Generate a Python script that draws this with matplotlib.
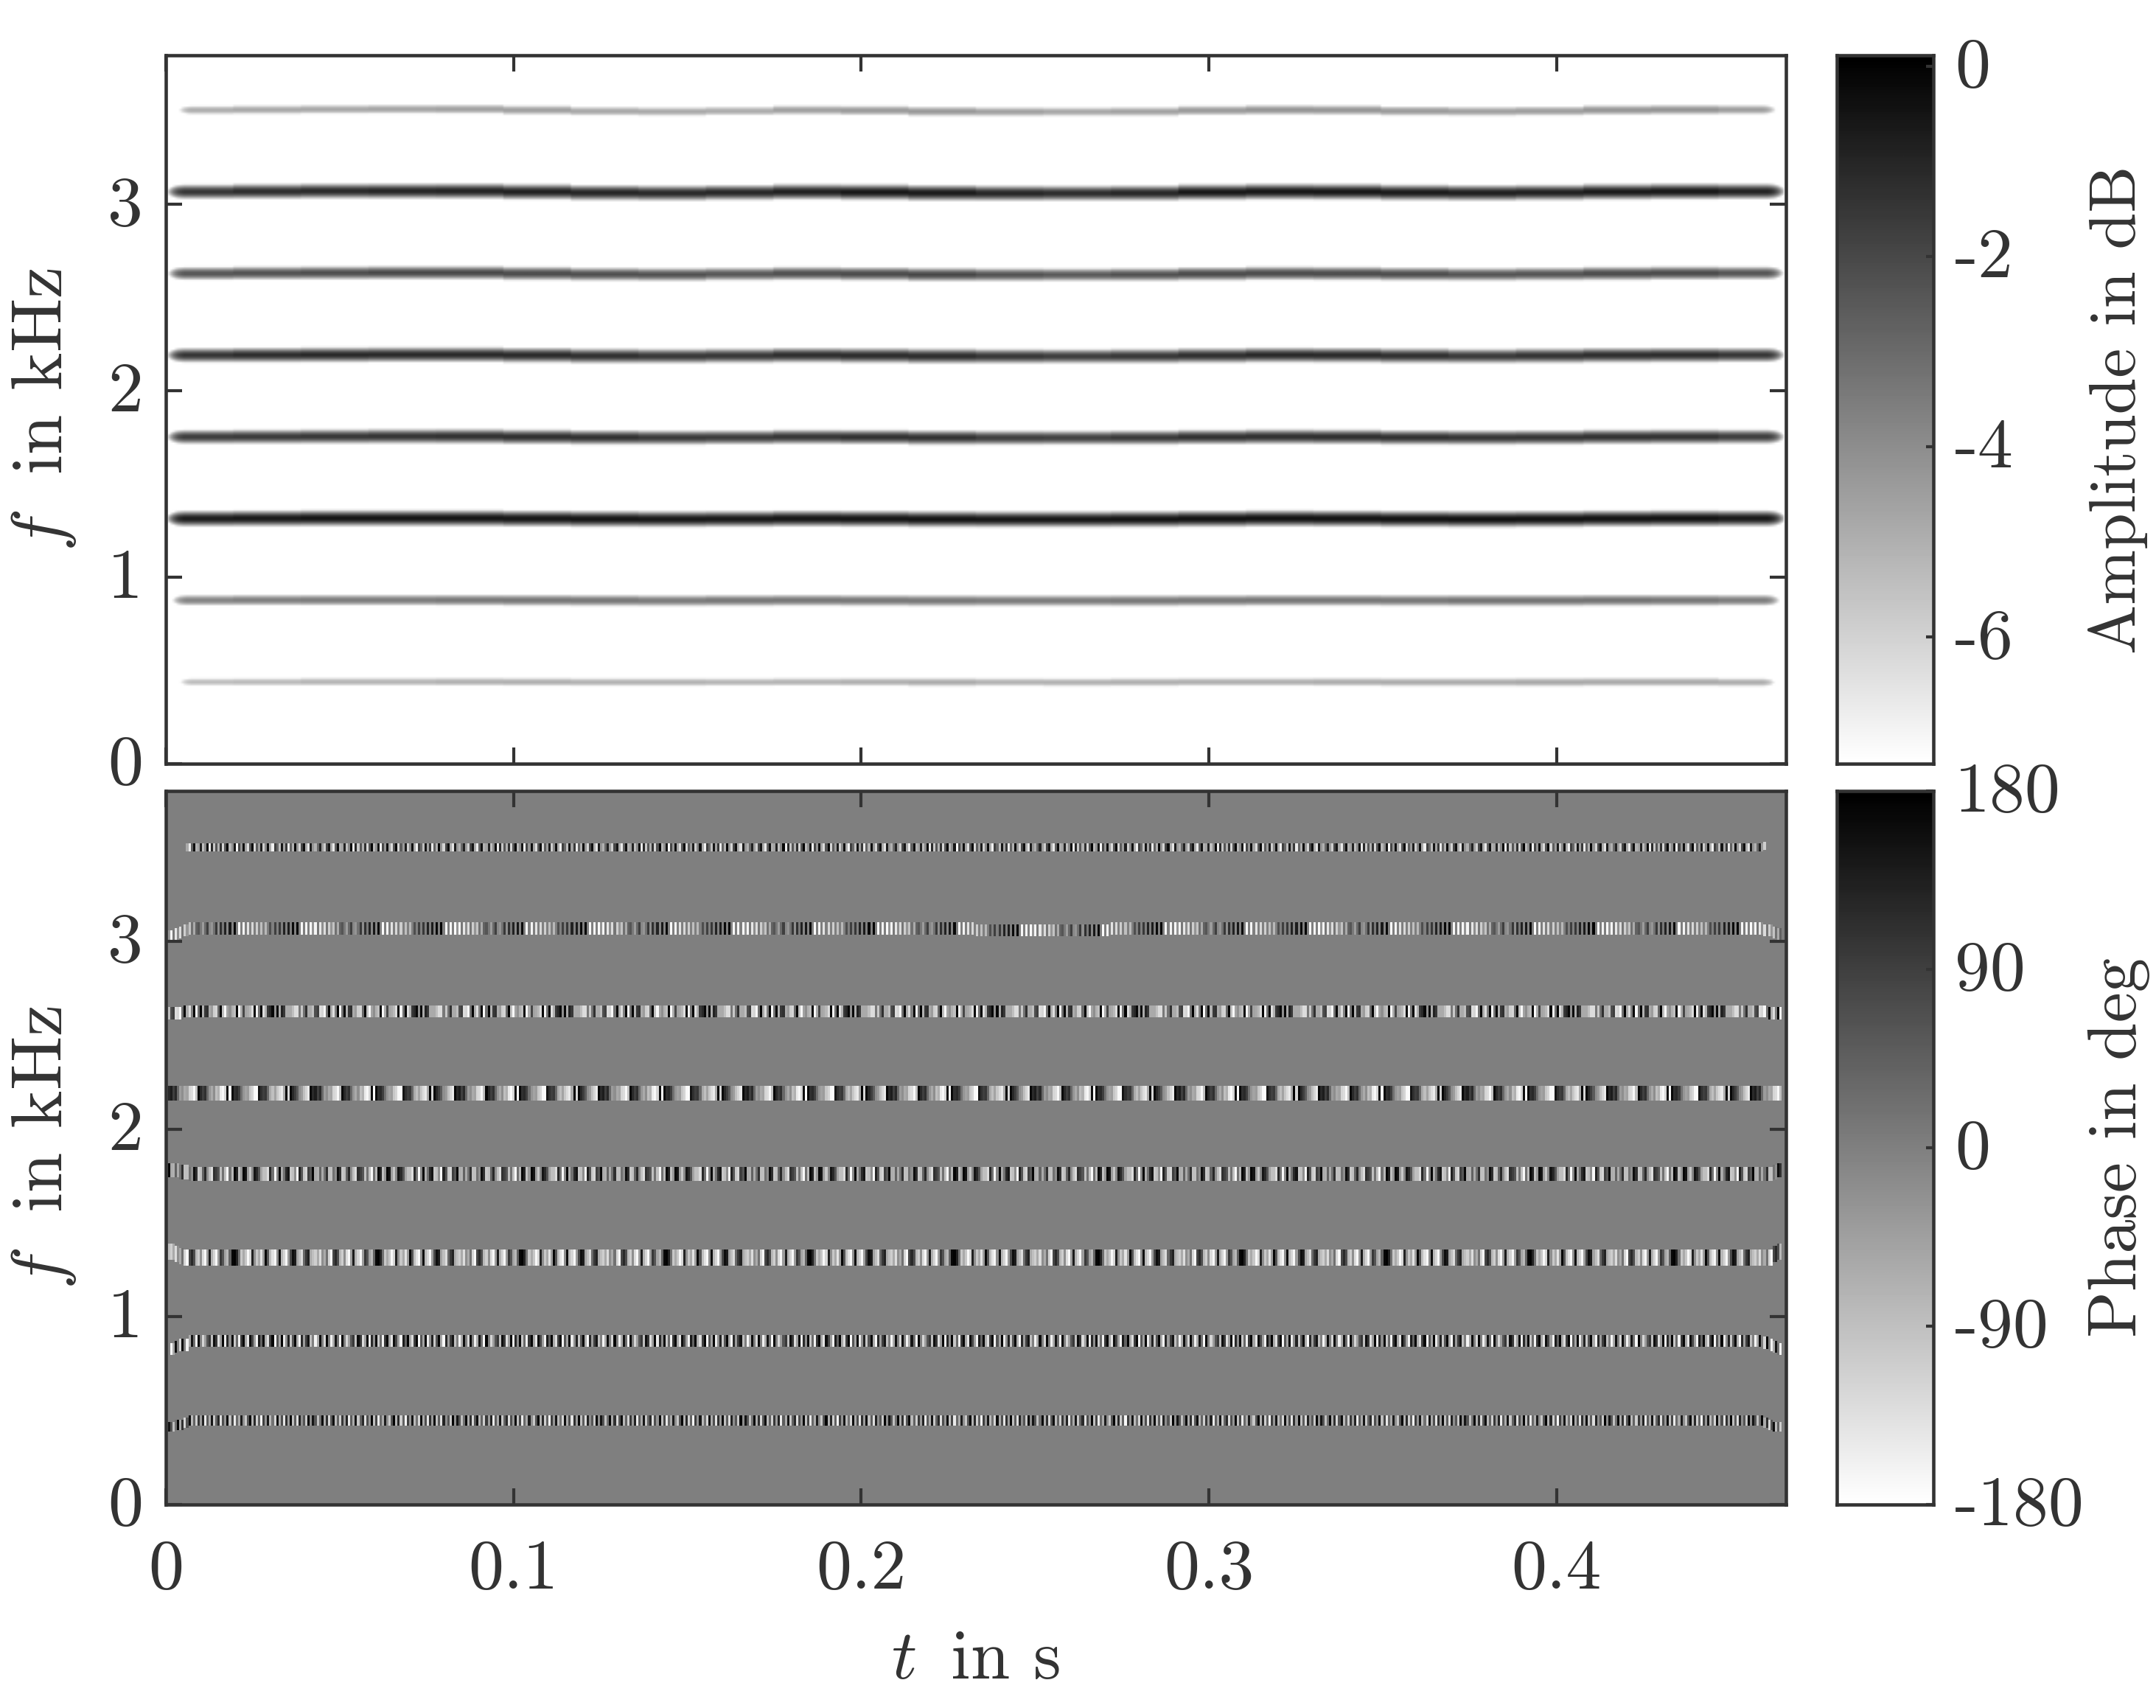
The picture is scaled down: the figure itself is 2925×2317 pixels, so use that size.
import numpy as np
import matplotlib
matplotlib.use('Agg')
import matplotlib.pyplot as plt
from matplotlib.transforms import ScaledTranslation

plt.rcParams['font.family'] = ['cmr10', 'DejaVu Sans']
plt.rcParams['mathtext.fontset'] = 'cm'
plt.rcParams['axes.formatter.use_mathtext'] = True
plt.rcParams['axes.unicode_minus'] = False
plt.rcParams['text.color'] = '#333333'
plt.rcParams['axes.labelcolor'] = '#333333'

# ---- data -----------------------------------------------------------------
T_MAX = 0.466
F_MAX = 3.8
F_BIN = 0.01077
N_FRAMES = 720

# centre frequency of each partial in kHz, 24 segments along time
centre_1 = [.438,.438,.439,.439,.439,.438,.437,.437,.437,.438,.438,.437,.437,.436,.437,.438,.438,.438,.437,.437,.437,.438,.438,.436]
centre_2 = [.876,.877,.877,.877,.877,.876,.875,.874,.875,.876,.875,.874,.874,.874,.874,.875,.876,.876,.875,.875,.875,.876,.876,.876]
centre_3 = [1.314,1.315,1.316,1.316,1.316,1.314,1.312,1.311,1.312,1.314,1.313,1.311,1.310,1.310,1.311,1.313,1.315,1.314,1.312,1.311,1.312,1.314,1.315,1.315]
centre_4 = [1.752,1.753,1.754,1.755,1.755,1.752,1.749,1.748,1.749,1.752,1.751,1.748,1.747,1.747,1.748,1.751,1.753,1.752,1.749,1.748,1.749,1.752,1.753,1.753]
centre_5 = [2.190,2.191,2.192,2.193,2.193,2.190,2.186,2.185,2.187,2.190,2.188,2.185,2.184,2.184,2.185,2.188,2.191,2.190,2.187,2.185,2.187,2.190,2.191,2.191]
centre_6 = [2.628,2.630,2.631,2.632,2.632,2.628,2.624,2.622,2.625,2.628,2.626,2.622,2.621,2.621,2.622,2.626,2.629,2.628,2.625,2.623,2.625,2.628,2.630,2.630]
centre_7 = [3.066,3.068,3.070,3.070,3.070,3.066,3.061,3.059,3.062,3.066,3.064,3.060,3.058,3.058,3.059,3.064,3.067,3.066,3.062,3.060,3.062,3.066,3.068,3.068]
centre_8 = [3.504,3.506,3.508,3.509,3.509,3.504,3.498,3.496,3.499,3.504,3.502,3.497,3.495,3.495,3.496,3.502,3.505,3.504,3.499,3.497,3.499,3.504,3.506,3.506]
centres = [centre_1, centre_2, centre_3, centre_4, centre_5, centre_6, centre_7, centre_8]

# peak level of each partial in dB, 24 segments along time
peak_1 = [-5.3,-5.2,-5.0,-5.0,-4.9,-4.9,-5.0,-5.0,-5.1,-5.0,-4.9,-4.8,-5.0,-5.0,-4.9,-4.9,-4.9,-4.8,-4.8,-4.8,-4.7,-4.7,-4.7,-4.9]
peak_2 = [-3.6,-3.5,-3.4,-3.4,-3.3,-3.2,-3.2,-3.3,-3.2,-3.2,-3.2,-3.2,-3.3,-3.3,-3.2,-3.2,-3.2,-3.2,-3.2,-3.1,-3.1,-3.1,-3.2,-3.4]
peak_3 = [-0.5,-0.4,-0.3,-0.3,-0.3,-0.3,-0.3,-0.4,-0.4,-0.3,-0.3,-0.3,-0.4,-0.4,-0.3,-0.2,-0.2,-0.2,-0.2,-0.2,-0.2,-0.2,-0.2,-0.4]
peak_4 = [-1.5,-1.4,-1.3,-1.2,-1.1,-1.1,-1.2,-1.4,-1.5,-1.3,-1.2,-1.2,-1.5,-1.6,-1.4,-1.2,-1.1,-1.1,-1.2,-1.3,-1.3,-1.2,-1.2,-1.5]
peak_5 = [-1.3,-1.1,-1.0,-1.0,-1.0,-1.0,-1.1,-1.3,-1.3,-1.1,-1.0,-1.0,-1.3,-1.5,-1.3,-1.1,-1.0,-1.0,-1.1,-1.4,-1.2,-1.1,-1.1,-1.4]
peak_6 = [-2.2,-2.1,-2.0,-1.9,-1.9,-1.9,-2.1,-2.2,-2.3,-2.0,-1.9,-1.9,-2.2,-2.4,-2.2,-1.9,-1.9,-1.9,-2.0,-2.3,-2.2,-1.9,-1.9,-2.2]
peak_7 = [-1.3,-1.0,-0.9,-0.8,-0.7,-0.7,-0.8,-0.9,-0.9,-0.7,-0.5,-0.5,-0.8,-1.0,-0.8,-0.5,-0.4,-0.4,-0.5,-0.6,-0.7,-0.5,-0.4,-0.7]
peak_8 = [-4.8,-4.7,-4.6,-4.5,-4.4,-4.4,-4.6,-4.7,-4.7,-4.4,-4.2,-4.2,-4.5,-4.7,-4.5,-4.2,-4.1,-4.1,-4.2,-4.4,-4.3,-4.1,-4.1,-4.4]
peaks = [peak_1, peak_2, peak_3, peak_4, peak_5, peak_6, peak_7, peak_8]

# level falloff around the ridge (dB) against distance from the ridge in rows
ridge_offset = [-5.5, -3.5, -2, -1, 0, 1, 2, 3.5, 5.5]
ridge_profile = [-9.0, -5.0, -2.0, -0.6, 0.0, -0.6, -2.0, -5.0, -9.0]
# fade at the two ends of each partial (dB)
edge_fade = [-4.0, -2.8, -1.8, -1.1, -0.6, -0.3, -0.1]
# first and last frame of each partial in the amplitude image
amp_first = [4, 2, 1, 1, 1, 1, 1, 4]
amp_last = [717, 718, 719, 719, 719, 719, 719, 717]
# first and last frame of each partial in the phase image
pha_first = [1, 1, 1, 1, 1, 1, 1, 9]
pha_last = [718, 718, 718, 718, 718, 718, 718, 711]

# band width of the phase stripes, rows
phase_rows = [5, 6, 8, 7, 7, 6, 6, 4]
# smallest frequency deviation that moves a phase band by a row (kHz)
phase_step = 0.008

# frequency shift of the phase stripes over the first and last 5 stripe pairs (kHz)
left_bend_1 = [-.025,-.025,-.020,-.015,-.010]
left_bend_2 = [-.060,-.050,-.040,-.030,-.020]
left_bend_3 = [.035,.030,.020,.010,.005]
left_bend_4 = [.030,.030,.025,.015,.010]
left_bend_5 = [0,0,0,0,0]
left_bend_6 = [-.010,-.010,-.010,-.010,0]
left_bend_7 = [-.045,-.040,-.030,-.020,-.010]
left_bend_8 = [0,0,0,0,0]
right_bend_1 = [-.010,-.020,-.025,-.025,-.025]
right_bend_2 = [-.010,-.020,-.035,-.050,-.060]
right_bend_3 = [-.005,.005,.020,.035,.040]
right_bend_4 = [0,0,.010,.020,.020]
right_bend_5 = [0,0,0,0,0]
right_bend_6 = [-.005,-.010,-.010,-.010,-.010]
right_bend_7 = [-.005,-.010,-.020,-.030,-.040]
right_bend_8 = [.010,.015,.020,.020,.020]
left_bends = [left_bend_1, left_bend_2, left_bend_3, left_bend_4, left_bend_5, left_bend_6, left_bend_7, left_bend_8]
right_bends = [right_bend_1, right_bend_2, right_bend_3, right_bend_4, right_bend_5, right_bend_6, right_bend_7, right_bend_8]

# phase values in degrees read stripe by stripe (one repeat of the visible pattern)
phase_1 = [-20,150,60,-90,20,170,-60,110,-120,60,160,-80,40,-110,100,-40,130,-150,50,-60,150,-100,40,120,-130,70,-30,170,-90,80,-150,30,-60,140,-20,-100,60,175,-70,120,-110,40,-170,90,-30,150,-80,20,-120,160,-60,70,-140,110,-40,170,-90,50,-130,130,-20,60,-100,175]
phase_2 = [-90,0,-165,-60,160,0,-120,170,0,-160,-60,150,20,-170,175,0,-120,-40,60,100,-90,160,100,-130,-40,170,-150,120,-20,170,-100,30,-160,100,170,-50,-140,160,80,-40,-160,140,40,175,-60,-130,90,170,-170,60,-50,175,-150,-20,130,-100,60,170,-60,-170,120,-40,90,150]
phase_3 = [-60,-90,-110,-60,-130,-20,-60,20,-120,-170,80,120,70,-80,-110,-20,-130,-170,-40,140,-70,-120,-170,-40,100,60,-50,-80,40,170,175,130,20,-100,-60,-100,-170,-120,130,-20,-100,-60,-140,-40,170,60,-90,-140,-170,-20,160,-80,-120,-170,-40,80,160,140,-50,-90,-130,30,100,130]
phase_4 = [60,170,-60,-70,40,-60,20,110,-90,-90,20,-20,160,110,-100,-90,40,120,-20,-90,-130,110,90,60,-90,20,-90,-170,20,-80,170,130,-90,-30,170,150,-40,-100,-10,150,120,60,-50,-90,-90,-130,120,20,-170,-10,170,-60,20,120,150,-100,-90,-20,-170,130,60,-100,-120,90]
phase_5 = [170,120,140,90,120,30,-40,-20,-60,-50,-120,-130,-170,-90,170,120,90,110,30,-30,-60,-20,-90,-70,-150,-170,-120,160,-175,165,110,120,90,20,-30,-50,-40,-100,-120,-170,-175,150,110,90,100,30,-60,-90,-50,-100,-130,-150,-60,175,-120,170,120,90,50,-20,-40,-90,-120,-150]
phase_6 = [-60,-90,70,90,-130,-120,-170,20,175,-60,-130,0,175,-170,20,175,-70,100,110,-60,-40,-110,-120,30,175,-90,-170,-50,-20,-70,-90,170,-170,-60,80,-50,-60,-80,-130,170,-160,20,175,-130,-70,100,120,170,-20,170,-60,130,100,-60,-60,-60,-90,-130,-130,10,-100,20,110,-60]
phase_7 = [-175,-30,-165,10,-145,-20,-130,15,-110,-30,-95,20,-60,40,60,10,-40,30,90,-10,-30,20,100,-20,110,10,130,-10,145,-5,165,0,-175,0,-165,0,-140,0,-125,0,-110,0,-90,0,-80,0,70,0,90,0,100,0,130,0,140,0,165,0,175,0,-170,0,-165,0]
phase_8 = [140,-30,-70,30,130,-40,-110,80,150,-60,-150,40,160,-70,-50,130,-90,-10,170,-150,120,-100,60,-70,110,-120,60,175,-80,-20,150,-170,80,-30,160,-50,-130,60,170,-120,50,-40,140,-110,-10,160,-60,-160,90,30,-90,150,-50,100,-150,40,-70,170,-30,-120,80,160,-60,-140]
phases = [phase_1, phase_2, phase_3, phase_4, phase_5, phase_6, phase_7, phase_8]

x_ticks = [0, 0.1, 0.2, 0.3, 0.4]
x_labels = ['0', '0.1', '0.2', '0.3', '0.4']
y_ticks = [0, 1, 2, 3]
amp_ticks = [0, -2, -4, -6]
amp_range = [-7.33, 0.115]
phase_ticks = [-180, -90, 0, 90, 180]
phase_range = [-180, 180]

# ---- build the two images --------------------------------------------------
n_rows = int(round(F_MAX / F_BIN))
row_idx = np.arange(n_rows)
amp = np.full((n_rows, N_FRAMES), -30.0)
pha = np.zeros((n_rows, N_FRAMES))
for i in range(len(centres)):
    n_seg = len(centres[i])
    for fr in range(amp_first[i], amp_last[i]):
        s = fr * n_seg // N_FRAMES
        fade = 0.0
        if fr - amp_first[i] < len(edge_fade):
            fade = edge_fade[fr - amp_first[i]]
        if amp_last[i] - 1 - fr < len(edge_fade):
            fade = edge_fade[amp_last[i] - 1 - fr]
        rpos = centres[i][s] / F_BIN - 0.5
        col = np.interp(row_idx - rpos, ridge_offset, ridge_profile, left=-30, right=-30)
        amp[:, fr] = np.maximum(amp[:, fr], col + peaks[i][s] + fade)
    seq = np.resize(np.array(phases[i], float), N_FRAMES)
    half = phase_rows[i] // 2
    for fr in range(pha_first[i], pha_last[i]):
        s = fr * n_seg // N_FRAMES
        dev = centres[i][s] - centres[i][0]
        if abs(dev) < phase_step:
            dev = 0.0
        shift = 0.0
        if fr < 10:
            shift = left_bends[i][fr // 2]
        if fr >= N_FRAMES - 10:
            shift = right_bends[i][(fr - (N_FRAMES - 10)) // 2]
        prow = int(round((centres[i][0] + dev + shift) / F_BIN))
        lo = prow - half
        pha[lo:lo + phase_rows[i], fr] = seq[fr]

# ---- figure ----------------------------------------------------------------
W, H = 2925, 2317
fig = plt.figure(figsize=(W / 300, H / 300), dpi=300)

def add_ax(l, t, r, b):
    return fig.add_axes([l / W, 1 - b / H, (r - l) / W, (b - t) / H])

SPINE = '#333333'
FS = 23
ax1 = add_ax(225, 75, 2423, 1036)
ax2 = add_ax(225, 1073, 2423, 2041)
cb1 = add_ax(2492, 75, 2623, 1036)
cb2 = add_ax(2492, 1073, 2623, 2041)

# both images use an inverted grey map: the top of each scale is black
ax1.imshow(amp, origin='lower', extent=[0, T_MAX, 0, F_MAX], aspect='auto', cmap='gray_r',
           vmin=amp_range[0], vmax=amp_range[1], interpolation='bilinear')
ax2.imshow(pha, origin='lower', extent=[0, T_MAX, 0, F_MAX], aspect='auto', cmap='gray_r',
           vmin=phase_range[0], vmax=phase_range[1], interpolation='nearest')

up = ScaledTranslation(0, 5 / 300, fig.dpi_scale_trans)

for ax in (ax1, ax2):
    ax.set_xlim(0, T_MAX)
    ax.set_ylim(0, F_MAX)
    ax.set_xticks(x_ticks)
    ax.set_yticks(y_ticks)
    ax.set_yticklabels([str(v) for v in y_ticks])
    ax.tick_params(direction='in', length=5.3, width=1.0, color=SPINE, labelcolor=SPINE,
                   labelsize=FS, top=True, right=True, pad=7.5)
    ax.tick_params(axis='x', pad=11.5)
    ax.set_ylabel(r'$f\;$ in kHz', fontsize=23.5)
    ax.yaxis.set_label_coords(-0.054, 0.5)
    for t in ax.get_yticklabels():
        t.set_transform(t.get_transform() + up)
ax1.set_xticklabels([])
ax2.set_xticklabels(x_labels)
ax2.set_xlabel(r'$t\,$ in s', fontsize=FS)
ax2.xaxis.set_label_coords(0.4995, -0.175)

for cb, rng, ticks, lab, fs in ((cb1, amp_range, amp_ticks, 'Amplitude in dB', 21.5),
                                (cb2, phase_range, phase_ticks, 'Phase in deg', 22.2)):
    grad = np.linspace(rng[0], rng[1], 256).reshape(-1, 1)
    cb.imshow(grad, origin='lower', extent=[0, 1, rng[0], rng[1]], aspect='auto', cmap='gray_r',
              vmin=rng[0], vmax=rng[1], interpolation='bilinear')
    cb.set_xticks([])
    cb.set_yticks(ticks)
    cb.set_yticklabels([str(v) for v in ticks])
    cb.yaxis.tick_right()
    cb.tick_params(direction='in', length=2.4, width=1.0, color=SPINE, labelcolor=SPINE,
                   labelsize=FS, pad=7)
    for t in cb.get_yticklabels():
        t.set_transform(t.get_transform() + up)
    cb.yaxis.set_label_position('right')
    cb.set_ylabel(lab, fontsize=fs, rotation=90)
    cb.yaxis.set_label_coords(2.6, 0.5)

for ax in (ax1, ax2, cb1, cb2):
    for s in ax.spines.values():
        s.set_color(SPINE)
        s.set_linewidth(1.1)

fig.savefig('out.png', dpi=300, facecolor='white')
